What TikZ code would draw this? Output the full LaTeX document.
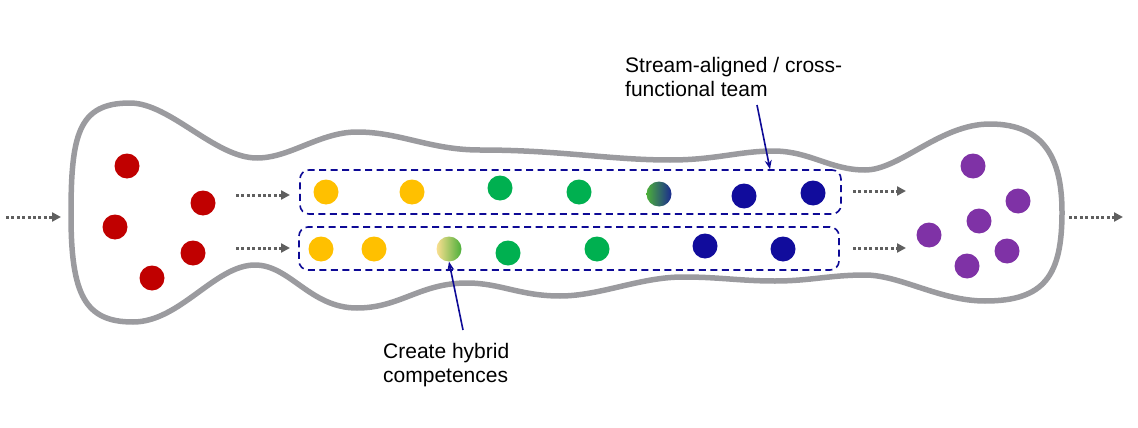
\documentclass[tikz,border=0pt]{standalone}
\usepackage{fontspec}
\setmainfont{Liberation Sans}
\usetikzlibrary{arrows.meta}
\definecolor{outlinegray}{HTML}{9B9B9F}
\definecolor{flowgray}{HTML}{5F5F5F}
\definecolor{teamnavy}{HTML}{0E0A96}
\definecolor{dred}{HTML}{C00000}
\definecolor{dyellow}{HTML}{FFC000}
\definecolor{dgreen}{HTML}{00B050}
\definecolor{dnavy}{HTML}{110C9C}
\definecolor{dpurple}{HTML}{7F32A6}
\definecolor{lyellow}{HTML}{FADF90}
\definecolor{mgreen}{HTML}{4CAF3A}
\definecolor{gnavy}{HTML}{1A2A90}
\tikzset{
  dot/.style={circle, minimum size=25pt, inner sep=0pt, draw=none},
  outline/.style={draw=outlinegray, line width=5.5pt, line join=round},
  flow/.style={draw=flowgray, line width=3pt, dash pattern=on 3pt off 2.4pt,
    -{Triangle[length=9pt,width=9pt,sep=0pt]}},
  team/.style={draw=teamnavy, line width=1.6pt, dash pattern=on 7pt off 4.5pt,
    rounded corners=9pt, rectangle, inner sep=0pt},
  callout/.style={draw=teamnavy, line width=1.6pt, -{Stealth[length=9pt,width=7pt]}},
  label/.style={align=left, inner sep=0pt, font=\fontsize{21}{24}\selectfont}
}
\begin{document}
\begin{tikzpicture}[x=1pt,y=-1pt]
\useasboundingbox (0,0) rectangle (1138,428);
% outline of the stream
\draw[outline] (71,215)
  .. controls (71,135) and (78,103) .. (130,103)
  .. controls (170,103) and (215,158) .. (257,158)
  .. controls (290,158) and (320,132) .. (357,132)
  .. controls (400,132) and (430,150) .. (480,150)
  .. controls (560,150) and (610,160) .. (670,160)
  .. controls (715,160) and (740,151) .. (773,151)
  .. controls (810,151) and (830,170) .. (865,170)
  .. controls (900,170) and (940,124) .. (990,124)
  .. controls (1045,124) and (1062,160) .. (1062,212)
  .. controls (1062,275) and (1045,301) .. (985,301)
  .. controls (940,301) and (900,275) .. (865,275)
  .. controls (830,275) and (810,281) .. (775,281)
  .. controls (740,281) and (720,277) .. (683,277)
  .. controls (640,277) and (600,296) .. (560,296)
  .. controls (520,296) and (500,283) .. (467,283)
  .. controls (420,283) and (400,308) .. (357,308)
  .. controls (310,308) and (290,265) .. (255,265)
  .. controls (215,265) and (180,322) .. (133,322)
  .. controls (85,322) and (71,295) .. (71,215) -- cycle;
% team boxes
\node[team, minimum width=541pt, minimum height=44pt] (teamA) at (570.5,192) {};
\node[team, minimum width=540pt, minimum height=43pt] (teamB) at (569,248.5) {};
% red dots
\node[dot, fill=dred] (r1) at (127,166) {};
\node[dot, fill=dred] (r2) at (203,203) {};
\node[dot, fill=dred] (r3) at (115,227) {};
\node[dot, fill=dred] (r4) at (193,253) {};
\node[dot, fill=dred] (r5) at (152,278) {};
% top team
\node[dot, fill=dyellow] (a1) at (326,192) {};
\node[dot, fill=dyellow] (a2) at (412,192) {};
\node[dot, fill=dgreen] (a3) at (500,188) {};
\node[dot, fill=dgreen] (a4) at (579,192) {};
\node[dot, left color=mgreen, right color=gnavy] (a5) at (659,194) {};
\node[dot, fill=dnavy] (a6) at (744,196) {};
\node[dot, fill=dnavy] (a7) at (813,193) {};
% bottom team
\node[dot, fill=dyellow] (b1) at (321,249) {};
\node[dot, fill=dyellow] (b2) at (374,249) {};
\node[dot, left color=lyellow, right color=mgreen] (b3) at (449,249) {};
\node[dot, fill=dgreen] (b4) at (508,253) {};
\node[dot, fill=dgreen] (b5) at (597,249) {};
\node[dot, fill=dnavy] (b6) at (705,246) {};
\node[dot, fill=dnavy] (b7) at (783,249) {};
% purple dots
\node[dot, fill=dpurple] (p1) at (973,166) {};
\node[dot, fill=dpurple] (p2) at (1018,201) {};
\node[dot, fill=dpurple] (p3) at (979,221) {};
\node[dot, fill=dpurple] (p4) at (929,235) {};
\node[dot, fill=dpurple] (p5) at (1007,251) {};
\node[dot, fill=dpurple] (p6) at (967,266) {};
% flow arrows
\coordinate (in0) at (6,217);   \coordinate (in1) at (61,217);
\coordinate (ta0) at (236,195); \coordinate (ta1) at (290,195);
\coordinate (tb0) at (236,248); \coordinate (tb1) at (290,248);
\coordinate (oa0) at (853,191); \coordinate (oa1) at (906,191);
\coordinate (ob0) at (853,248); \coordinate (ob1) at (906,248);
\coordinate (out0) at (1069,217); \coordinate (out1) at (1123,217);
\draw[flow] (in0) -- (in1);
\draw[flow] (ta0) -- (ta1);
\draw[flow] (tb0) -- (tb1);
\draw[flow] (oa0) -- (oa1);
\draw[flow] (ob0) -- (ob1);
\draw[flow] (out0) -- (out1);
% labels
\node[label, anchor=north west] (lteam) at (625,57) {Stream-aligned / cross-\\functional team};
\node[label, anchor=north west] (lhyb) at (383,343) {Create hybrid\\competences};
\coordinate (c1) at (757,105);
\coordinate (c2) at (463,330);
\draw[callout] (c1) -- (teamA.north -| 770,0);
\draw[callout] (c2) -- (b3.south);
\end{tikzpicture}
\end{document}
